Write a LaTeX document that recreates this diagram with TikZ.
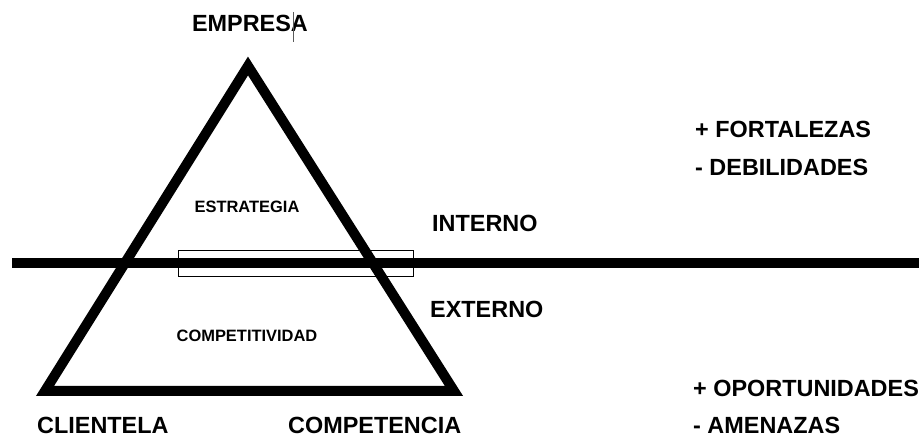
\documentclass[tikz,border=0pt]{standalone}
\usepackage{fontspec}
\setmainfont{Liberation Sans}
\begin{document}
\begin{tikzpicture}[x=1bp,y=-1bp,
  big/.style={font=\bfseries\fontsize{23.5}{26}\selectfont, inner sep=0pt},
  small/.style={font=\bfseries\fontsize{16.5}{19}\selectfont, inner sep=0pt},
  thick line/.style={line width=10bp, line join=miter},
  thin box/.style={draw, line width=1bp}]
\useasboundingbox (0,0) rectangle (919,439);
% triangle
\coordinate (apex) at (248,66);
\coordinate (bl) at (45,391);
\coordinate (br) at (454,391);
\draw[thick line] (apex) -- (bl) -- (br) -- cycle;
% horizontal divider
\coordinate (hl) at (12,263);
\coordinate (hr) at (919,263);
\draw[line width=10bp] (hl) -- (hr);
% thin rectangle
\node[thin box, minimum width=235bp, minimum height=26bp, anchor=north west, inner sep=0pt] (band) at (178,250) {};
% labels
\node[big, anchor=base] (empresa) at (250,32) {EMPRESA};
\coordinate (cur1) at (293,12);
\coordinate (cur2) at (293,42);
\draw[gray!70!black, line width=0.8bp] (cur1) -- (cur2);
\node[small, anchor=base] (estrategia) at (247,213) {ESTRATEGIA};
\node[small, anchor=base] (compet) at (247,342) {COMPETITIVIDAD};
\node[big, anchor=base west] (interno) at (432,232) {INTERNO};
\node[big, anchor=base west] (externo) at (430,318) {EXTERNO};
\node[big, anchor=base west] (fort) at (695,138) {+ FORTALEZAS};
\node[big, anchor=base west] (deb) at (695,176) {- DEBILIDADES};
\node[big, anchor=base west] (opor) at (693,396) {+ OPORTUNIDADES};
\node[big, anchor=base west] (amen) at (693,433) {- AMENAZAS};
\node[big, anchor=base west] (cliente) at (37,433) {CLIENTELA};
\node[big, anchor=base west] (competencia) at (288,433) {COMPETENCIA};
\end{tikzpicture}
\end{document}
